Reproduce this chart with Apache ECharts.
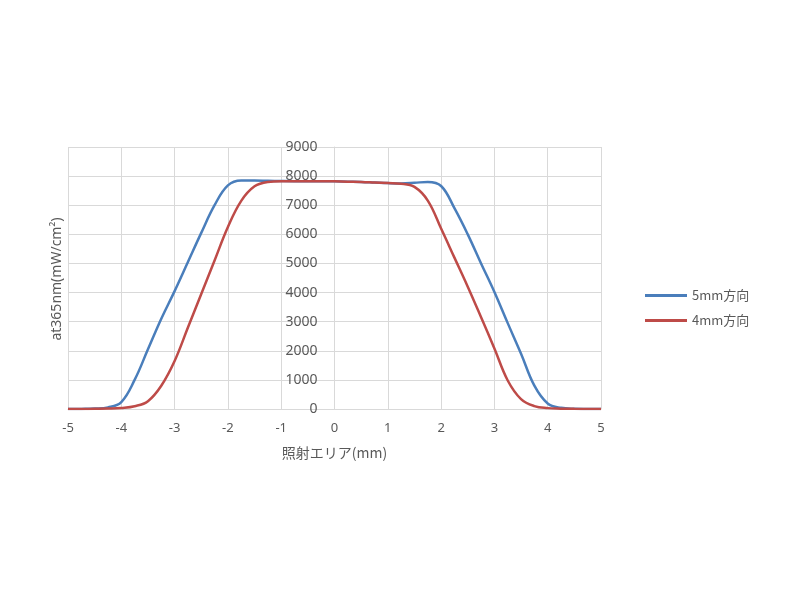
<!DOCTYPE html>
<html><head><meta charset="utf-8">
<script src="https://cdn.jsdelivr.net/npm/echarts@6/dist/echarts.min.js"></script>
<style>html,body{margin:0;padding:0;background:#fff}#c{width:800px;height:600px}</style>
</head><body><div id="c"></div>
<script>
const xPos = [-5,-4.75,-4.5,-4.25,-4,-3.75,-3.5,-3.25,-3,-2.75,-2.5,-2.25,-2,-1.75,-1.5,-1.25,-1,-0.75,-0.5,-0.25,0,0.25,0.5,0.75,1,1.25,1.5,1.75,2,2.25,2.5,2.75,3,3.25,3.5,3.75,4,4.25,4.5,4.75,5];
const blue5mm = [0,4,14,55,240,1000,2050,3100,4050,5050,6050,7000,7680,7850,7850,7840,7830,7825,7825,7825,7820,7810,7800,7780,7760,7750,7770,7800,7660,6900,6000,5000,4020,2950,1900,800,190,40,8,2,0];
const red4mm  = [0,2,6,14,35,95,270,800,1650,2800,3950,5100,6250,7150,7650,7800,7825,7825,7825,7825,7820,7810,7800,7780,7760,7740,7630,7160,6200,5200,4200,3150,2080,980,340,100,30,12,5,2,0];
const seriesNames = ['5mm方向','4mm方向'];
const yTicks = [0,1000,2000,3000,4000,5000,6000,7000,8000,9000];

const pair = (xs, ys) => xs.map((x,i)=>[x, ys[i]]);
const font = 'Noto Sans, sans-serif';
const gridLeft = 68, gridRight = 199, plotW = 800 - gridLeft - gridRight;
const chart = echarts.init(document.getElementById('c'));
chart.setOption({
  animation:false,
  backgroundColor:'#fff',
  grid:{left:gridLeft,right:gridRight,top:147,bottom:191},
  xAxis:{type:'value',min:-5,max:5,interval:1,
    axisLine:{show:true,onZero:false,lineStyle:{color:'#d9d9d9'}},
    axisTick:{show:false},
    splitLine:{show:true,lineStyle:{color:'#d9d9d9'}},
    axisLabel:{color:'#595959',fontSize:13,fontFamily:font,margin:13},
    name:'照射エリア(mm)',nameLocation:'middle',nameGap:37,
    nameTextStyle:{color:'#595959',fontSize:14,fontFamily:'Noto Sans CJK JP, sans-serif'}},
  yAxis:{type:'value',min:0,max:9000,interval:1000,offset:-plotW/2,
    axisLine:{show:true,onZero:false,lineStyle:{color:'#d9d9d9'}},
    axisTick:{show:false},
    splitLine:{show:true,lineStyle:{color:'#d9d9d9'}},
    axisLabel:{color:'#595959',fontSize:14,fontFamily:font,margin:17,
      formatter:v=>yTicks.indexOf(v)>=0?String(v):''}},
  legend:{orient:'vertical',left:640,top:284,itemGap:12,icon:'rect',itemWidth:42,itemHeight:3,
    textStyle:{color:'#595959',fontSize:13,fontFamily:'Noto Sans CJK JP, sans-serif'},
    data:seriesNames},
  graphic:[{type:'text',x:57,y:279,rotation:Math.PI/2,
    style:{text:'at365nm(mW/cm²)',fill:'#595959',fontSize:14,fontFamily:font,align:'center',verticalAlign:'middle'}}],
  series:[
    {name:seriesNames[0],type:'line',data:pair(xPos,blue5mm),smooth:0.4,showSymbol:false,symbol:'none',
     lineStyle:{color:'#4A7EBB',width:2.5},itemStyle:{color:'#4A7EBB'}},
    {name:seriesNames[1],type:'line',data:pair(xPos,red4mm),smooth:0.4,showSymbol:false,symbol:'none',
     lineStyle:{color:'#BE4B48',width:2.5},itemStyle:{color:'#BE4B48'}}
  ]
});
</script></body></html>
